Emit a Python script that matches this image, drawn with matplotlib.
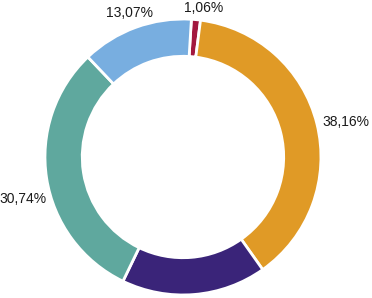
import matplotlib.pyplot as plt

shares = [1.06, 38.16, 16.97, 30.74, 13.07]
labels = ['1,06%', '38,16%', '', '30,74%', '13,07%']
colors = ['#a3183f', '#e09a26', '#3a2479', '#5fa89e', '#78aee0']

plt.rcParams['font.family'] = ['Liberation Sans', 'DejaVu Sans']

fig = plt.figure(figsize=(3.72, 2.98), dpi=100)
ax = fig.add_axes([0, 0, 1, 1])

wedges, texts = ax.pie(shares, colors=colors, labels=labels, startangle=86.5,
                       counterclock=False, labeldistance=1.1,
                       wedgeprops=dict(width=0.27, edgecolor='white', linewidth=2),
                       textprops=dict(fontsize=10, color='#1a1a1a'))

# label spots (pie radius = 1), centred like the original
label_pos = [(0.152, 1.08), (1.181, 0.254), None, (-1.159, -0.304), (-0.391, 1.043)]
for t, p in zip(texts, label_pos):
    if p is not None:
        t.set_position(p)
        t.set_ha('center')
        t.set_va('center')

ax.set_xlim(-1.326, 1.370)
ax.set_ylim(-1.022, 1.138)
ax.set_aspect('auto')
ax.axis('off')

fig.savefig('out.png', dpi=100)
